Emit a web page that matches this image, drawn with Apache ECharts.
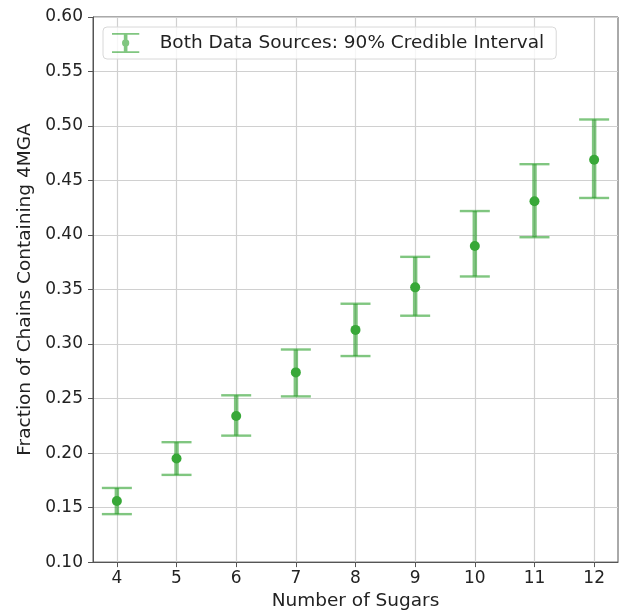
<!DOCTYPE html>
<html>
<head>
<meta charset="utf-8">
<script src="https://cdn.jsdelivr.net/npm/echarts@6/dist/echarts.min.js"></script>
<style>
  html, body { margin: 0; padding: 0; background: #fff; }
  #chart { width: 619px; height: 616px; }
</style>
</head>
<body>
<div id="chart"></div>
<script>
// Number of sugars in the chain
const sugars = [4, 5, 6, 7, 8, 9, 10, 11, 12];
// Posterior mean fraction of chains containing 4MGA
const means = [0.156, 0.195, 0.234, 0.274, 0.313, 0.352, 0.390, 0.431, 0.469];
// 90% credible interval bounds
const lower = [0.144, 0.180, 0.216, 0.252, 0.289, 0.326, 0.362, 0.398, 0.434];
const upper = [0.168, 0.210, 0.253, 0.295, 0.337, 0.380, 0.422, 0.465, 0.506];
// Axis ticks
const xTicks = [4, 5, 6, 7, 8, 9, 10, 11, 12];

const seriesName = 'Both Data Sources: 90% Credible Interval';
const barColor = 'rgba(44,160,44,0.6)';
const dotColor = '#38a838';
const font = 'DejaVu Sans';

const chart = echarts.init(document.getElementById('chart'), null, { renderer: 'canvas' });

const barData = sugars.map((s, i) => [s, lower[i], upper[i]]);
const dotData = sugars.map((s, i) => [s, means[i]]);

const errorIcon = 'path://M0 0H30V2H0Z M13 0H17V22H13Z M0 20H30V22H0Z M15 7A4 4 0 1 1 15 15A4 4 0 1 1 15 7Z';

chart.setOption({
  animation: false,
  grid: { left: 93, right: 1, top: 17, bottom: 53, containLabel: false,
          show: true, borderColor: '#555', borderWidth: 1 },
  xAxis: {
    type: 'value',
    min: 3.6,
    max: 12.4,
    name: 'Number of Sugars',
    nameLocation: 'middle',
    nameGap: 29,
    nameTextStyle: { fontFamily: font, fontSize: 18.5, color: '#222' },
    axisLine: { show: true, onZero: false, lineStyle: { color: '#555', width: 1 } },
    axisTick: { show: true, length: 5, customValues: xTicks, lineStyle: { color: '#555' } },
    axisLabel: { customValues: xTicks, fontFamily: font, fontSize: 17, color: '#222', margin: 8 },
    splitLine: { show: true, lineStyle: { color: '#d0d0d0', width: 1.2 } }
  },
  yAxis: {
    type: 'value',
    min: 0.10,
    max: 0.60,
    interval: 0.05,
    name: 'Fraction of Chains Containing 4MGA',
    nameLocation: 'middle',
    nameGap: 48,
    nameTextStyle: { fontFamily: font, fontSize: 18.5, color: '#222' },
    axisLine: { show: true, lineStyle: { color: '#555', width: 1 } },
    axisTick: { show: true, length: 5, lineStyle: { color: '#555' } },
    axisLabel: { fontFamily: font, fontSize: 17, color: '#222', margin: 10,
                 formatter: v => v.toFixed(2) },
    splitLine: { show: true, lineStyle: { color: '#d0d0d0', width: 1.2 } }
  },
  legend: {
    show: true,
    data: [{ name: seriesName, icon: errorIcon }],
    left: 103,
    top: 27,
    itemWidth: 30,
    itemHeight: 20,
    itemGap: 10,
    padding: [6, 12, 6, 9],
    backgroundColor: 'rgba(255,255,255,0.8)',
    borderColor: '#d8d8d8',
    borderWidth: 1,
    borderRadius: 4,
    textStyle: { fontFamily: font, fontSize: 18.5, color: '#222', padding: [0, 0, 0, 14] }
  },
  series: [
    {
      name: seriesName,
      type: 'custom',
      itemStyle: { color: barColor },
      data: barData,
      encode: { x: 0, y: [1, 2] },
      renderItem: function (params, api) {
        const x = api.value(0);
        const lo = api.coord([x, api.value(1)]);
        const hi = api.coord([x, api.value(2)]);
        const half = 15;
        const style = { stroke: barColor, lineWidth: 4.5, fill: null };
        const capStyle = { stroke: barColor, lineWidth: 2.4, fill: null };
        return {
          type: 'group',
          children: [
            { type: 'line', shape: { x1: lo[0], y1: lo[1], x2: hi[0], y2: hi[1] }, style: style },
            { type: 'line', shape: { x1: hi[0] - half, y1: hi[1], x2: hi[0] + half, y2: hi[1] }, style: capStyle },
            { type: 'line', shape: { x1: lo[0] - half, y1: lo[1], x2: lo[0] + half, y2: lo[1] }, style: capStyle }
          ]
        };
      },
      z: 2
    },
    {
      name: 'mean',
      type: 'scatter',
      data: dotData,
      symbol: 'circle',
      symbolSize: 10,
      itemStyle: { color: dotColor, opacity: 1 },
      z: 3
    }
  ]
});
</script>
</body>
</html>
